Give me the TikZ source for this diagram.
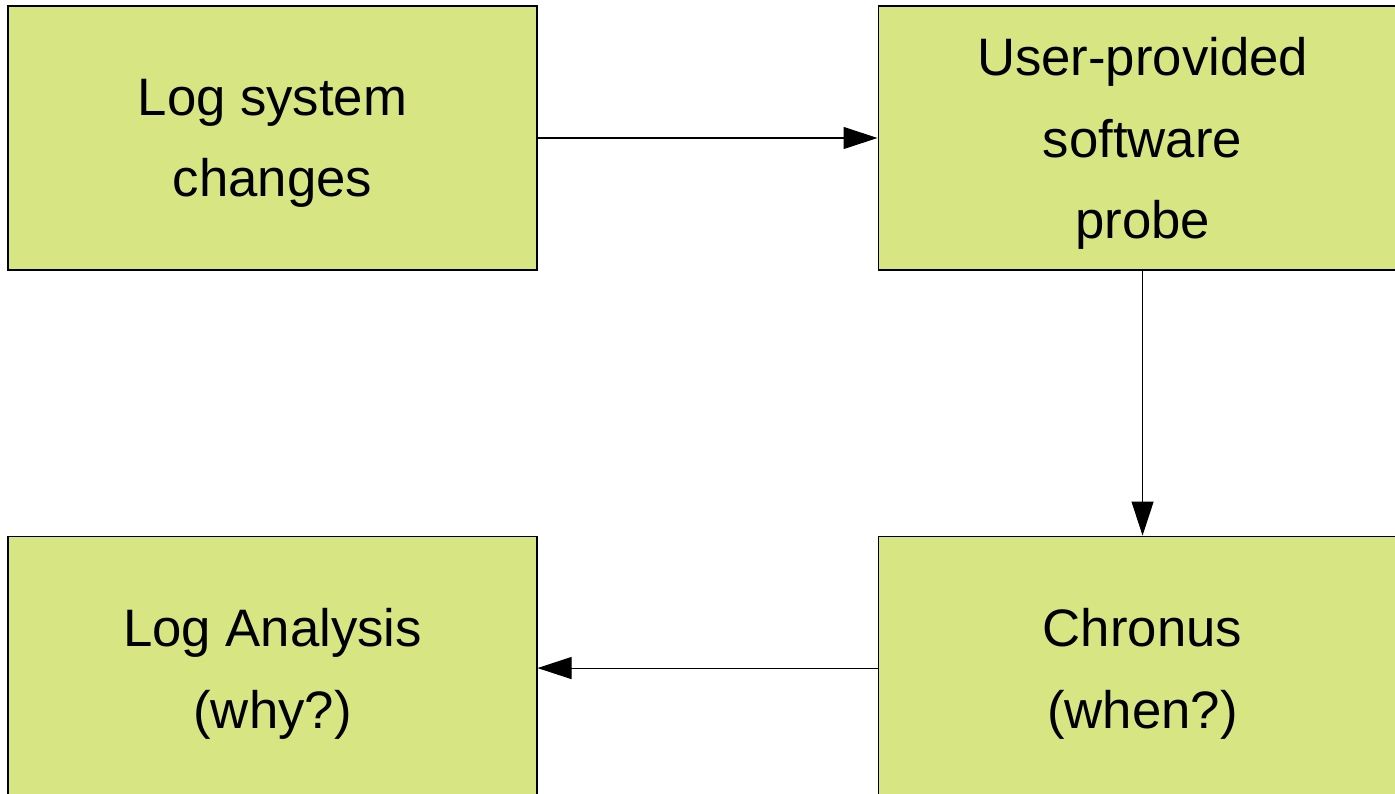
\documentclass[tikz,border=0pt]{standalone}
\usepackage{fontspec}
\setmainfont{Liberation Sans}
\usetikzlibrary{arrows.meta,positioning}
\definecolor{boxgreen}{RGB}{215,230,130}
\tikzset{
    stagebox/.style={draw=black,fill=boxgreen,line width=0.6pt,
        minimum width=10.58cm,minimum height=5.28cm,align=center,
        font=\fontsize{30}{46.5}\selectfont,text depth=-0.28cm},
    flowarrow/.style={-{Triangle[length=0.68cm,width=0.44cm]},line width=0.6pt}
}

\begin{document}
\begin{tikzpicture}
    \useasboundingbox (0,0) rectangle (27.9,-15.88);
    % Boxes
    \node[stagebox] (logchanges) at (5.45,-2.76) {Log system\\changes};
    \node[stagebox,right=6.8cm of logchanges] (probe) {User-provided\\software\\probe};
    \node[stagebox,below=5.3cm of probe] (chronus) {Chronus\\(when?)};
    \node[stagebox,left=6.8cm of chronus] (analysis) {Log Analysis\\(why?)};
    % Flow
    \draw[flowarrow] (logchanges.east) -- (probe.west);
    \draw[flowarrow] (probe.south) -- (chronus.north);
    \draw[flowarrow] (chronus.west) -- (analysis.east);
\end{tikzpicture}
\end{document}
